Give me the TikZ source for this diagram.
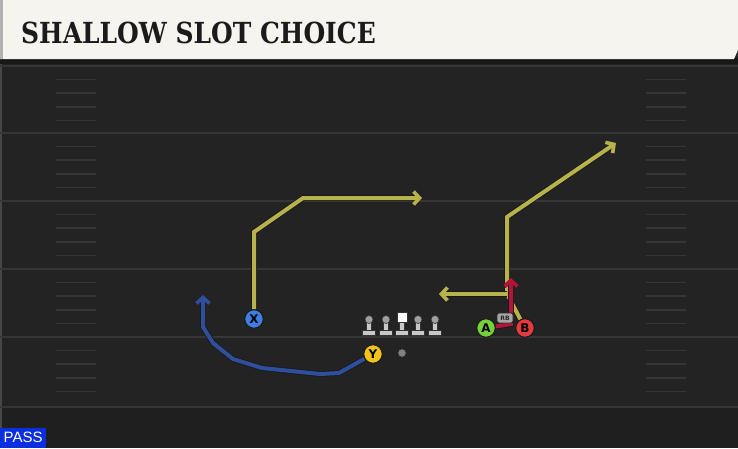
\documentclass[tikz,border=0pt]{standalone}
\usepackage{fontspec}
\setmainfont{DejaVu Sans}
\newfontfamily\titlefont{DejaVu Serif}
\newfontfamily\passfont{Liberation Sans}
\usetikzlibrary{arrows.meta}
\definecolor{fieldbg}{HTML}{232323}
\definecolor{fieldlow}{HTML}{1F1F1F}
\definecolor{yardc}{HTML}{363636}
\definecolor{hashc}{HTML}{363636}
\definecolor{bandc}{HTML}{F6F4EE}
\definecolor{titlec}{HTML}{1B1B1B}
\definecolor{yroute}{HTML}{B7B24C}
\definecolor{broute}{HTML}{2F4E9C}
\definecolor{rroute}{HTML}{B3143A}
\definecolor{xfill}{HTML}{3D7FE0}
\definecolor{yfill}{HTML}{F2C318}
\definecolor{afill}{HTML}{74D13C}
\definecolor{bfill}{HTML}{E53B3F}
\definecolor{passblue}{HTML}{0A2FE0}
\definecolor{manc}{HTML}{C8C8C8}
\pgfdeclarelayer{bg}
\pgfdeclarelayer{routes}
\pgfsetlayers{bg,routes,main}
\tikzset{
  yardline/.style={draw=yardc, line width=1.6pt},
  hashmark/.style={draw=hashc, line width=1.5pt},
  route/.style={line width=4pt, line join=miter, line cap=butt,
    preaction={draw=black!90, line width=5.6pt}},
  tip/.style={-{Straight Barb[length=6pt,width=13pt,line width=3.6pt]}},
  player/.style={circle, minimum size=18.5pt, inner sep=0pt, draw=black!90,
    line width=1pt, font=\bfseries\fontsize{12}{12}\selectfont, text=black},
  rbtag/.style={rounded corners=2pt, fill=black!35, draw=black!85, line width=0.9pt,
    minimum width=16pt, minimum height=10pt, inner sep=0pt,
    font=\bfseries\fontsize{6}{6}\selectfont, text=black!85},
  lineman/.pic={
    \fill[manc, draw=black!80, line width=0.6pt] (-6.5,4) rectangle (6.5,9);
    \fill[manc, draw=black!80, line width=0.6pt] (-2.6,-4) rectangle (2.6,4.5);
    \fill[manc!80!black, draw=black!80, line width=0.6pt] (0,-6.5) circle (4);
  },
  centerman/.pic={
    \fill[manc, draw=black!80, line width=0.6pt] (-6.5,4) rectangle (6.5,9);
    \fill[manc, draw=black!80, line width=0.6pt] (-2.6,-4) rectangle (2.6,4.5);
    \fill[white, draw=black!80, line width=0.6pt] (-4.8,-13.5) rectangle (4.8,-4);
  },
}
\begin{document}
\begin{tikzpicture}[x=1pt,y=-1pt]
\useasboundingbox (0,0) rectangle (738,448);
\begin{pgfonlayer}{bg}
  \fill[fieldbg] (0,0) rectangle (738,448);
  \fill[fieldlow] (0,407) rectangle (738,448);
  \draw[draw=black!72, line width=2pt] (1,59) -- (1,448);
  \foreach \y in {66,133,201,269,337,407} \draw[yardline] (0,\y) -- (738,\y);
  \foreach \b in {66,133,201,269,337} {
    \foreach \k in {1,2,3,4} {
      \pgfmathsetmacro{\hy}{\b+\k*13.6}
      \draw[hashmark] (56,\hy) -- (96,\hy);
      \draw[hashmark] (646,\hy) -- (686,\hy);
    }
  }
  % title band
  \fill[black!90] (0,58) rectangle (738,64);
  \fill[bandc] (0,0) -- (738,0) -- (738,50) -- (734,59) -- (0,59) -- cycle;
  \fill[black!30] (0,0) rectangle (3,59);
\end{pgfonlayer}
\node[anchor=base west, inner sep=0pt, text=titlec] (title) at (21,43)
  {\titlefont\bfseries\fontsize{29}{29}\selectfont\scalebox{0.86}[1]{SHALLOW SLOT CHOICE}};
% line
\pic (lt) at (369,326) {lineman};
\pic (lg) at (386,326) {lineman};
\pic (c) at (402,326) {centerman};
\pic (rg) at (418,326) {lineman};
\pic (rt) at (435,326) {lineman};
\fill[black!50, draw=black!85, line width=0.6pt] (402,353) circle (4.2) coordinate (qb);
% players
\node[player, fill=xfill] (X) at (254,319) {X};
\node[player, fill=yfill] (Y) at (373,354) {Y};
\node[player, fill=afill] (A) at (486,328) {A};
\node[player, fill=bfill] (B) at (525,328) {B};
\node[rbtag] (RB) at (505,318) {RB};
% route coordinates
\coordinate (x1) at (254,232);
\coordinate (x2) at (303,198);
\coordinate (xe) at (422,198);
\coordinate (y1) at (339,373);
\coordinate (y2) at (320,374);
\coordinate (y3) at (262,368);
\coordinate (y4) at (233,359);
\coordinate (y5) at (213,343);
\coordinate (y6) at (203,327);
\coordinate (ye) at (203,295);
\coordinate (b1) at (507,294);
\coordinate (b2) at (507,217);
\coordinate (be) at (616,143);
\coordinate (bl) at (439,294);
\coordinate (a1) at (511,324);
\coordinate (ae) at (511,278);
\begin{pgfonlayer}{routes}
  \draw[route, yroute, tip] (X) -- (x1) -- (x2) -- (xe);
  \draw[route, broute, tip] (Y) -- (y1) -- (y2) -- (y3) -- (y4) -- (y5) -- (y6) -- (ye);
  \draw[route, yroute, tip] (B) -- (b1) -- (b2) -- (be);
  \draw[route, yroute, tip] (b1) -- (bl);
  \draw[route, rroute, tip] (A) -- (a1) -- (ae);
\end{pgfonlayer}
\node[fill=passblue, text=white, anchor=south west, minimum width=46pt,
  minimum height=20pt, inner sep=0pt, font=\passfont\fontsize{15}{15}\selectfont]
  (pass) at (0,448) {PASS};
\end{tikzpicture}
\end{document}
